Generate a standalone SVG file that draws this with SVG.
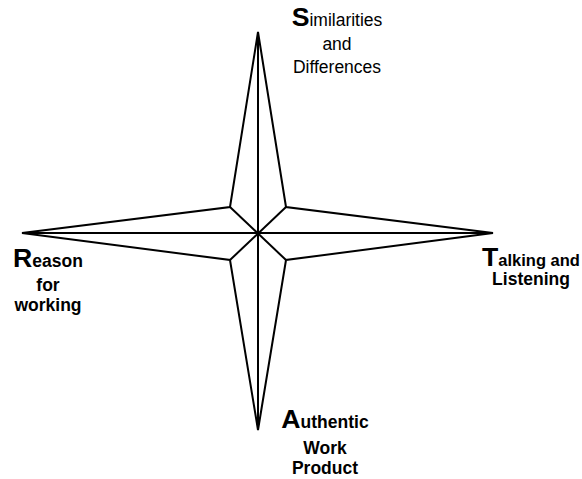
<svg xmlns="http://www.w3.org/2000/svg" width="582" height="479" viewBox="0 0 582 479">
<style>
.ln{fill:none;stroke:#000;stroke-width:2;stroke-linejoin:miter}
text{font-family:"Liberation Sans",Arial,sans-serif;fill:#000;text-anchor:middle}
.b{font-weight:bold}
.s{font-size:17.5px}
.big{font-size:26.67px;font-weight:bold}
</style>
<rect width="582" height="479" fill="#fff"/>
<g id="connectors">
<polygon class="ln" points="258,32 286,207 493,233 286,260 258,430 230,260 22,233 230,207"/>
<line class="ln" x1="258" y1="32" x2="258" y2="430"/>
<line class="ln" x1="22" y1="233" x2="493" y2="233"/>
<line class="ln" x1="230" y1="207" x2="286" y2="260"/>
<line class="ln" x1="286" y1="207" x2="230" y2="260"/>
</g>
<g id="similarities">
<text x="337" y="26"><tspan class="big">S</tspan><tspan class="s">imilarities</tspan></text>
<text class="s" x="337" y="50">and</text>
<text class="s" x="337" y="73">Differences</text>
</g>
<g id="talking">
<text x="531" y="266"><tspan class="big">T</tspan><tspan class="s b" style="font-size:16.5px">alking and</tspan></text>
<text class="s b" x="531" y="285">Listening</text>
</g>
<g id="authentic">
<text x="325" y="428"><tspan class="big">A</tspan><tspan class="s b">uthentic</tspan></text>
<text class="s b" x="325" y="454">Work</text>
<text class="s b" x="325" y="474">Product</text>
</g>
<g id="reason">
<text x="48" y="267"><tspan class="big">R</tspan><tspan class="s b">eason</tspan></text>
<text class="s b" x="48" y="291">for</text>
<text class="s b" x="48" y="311">working</text>
</g>
</svg>
